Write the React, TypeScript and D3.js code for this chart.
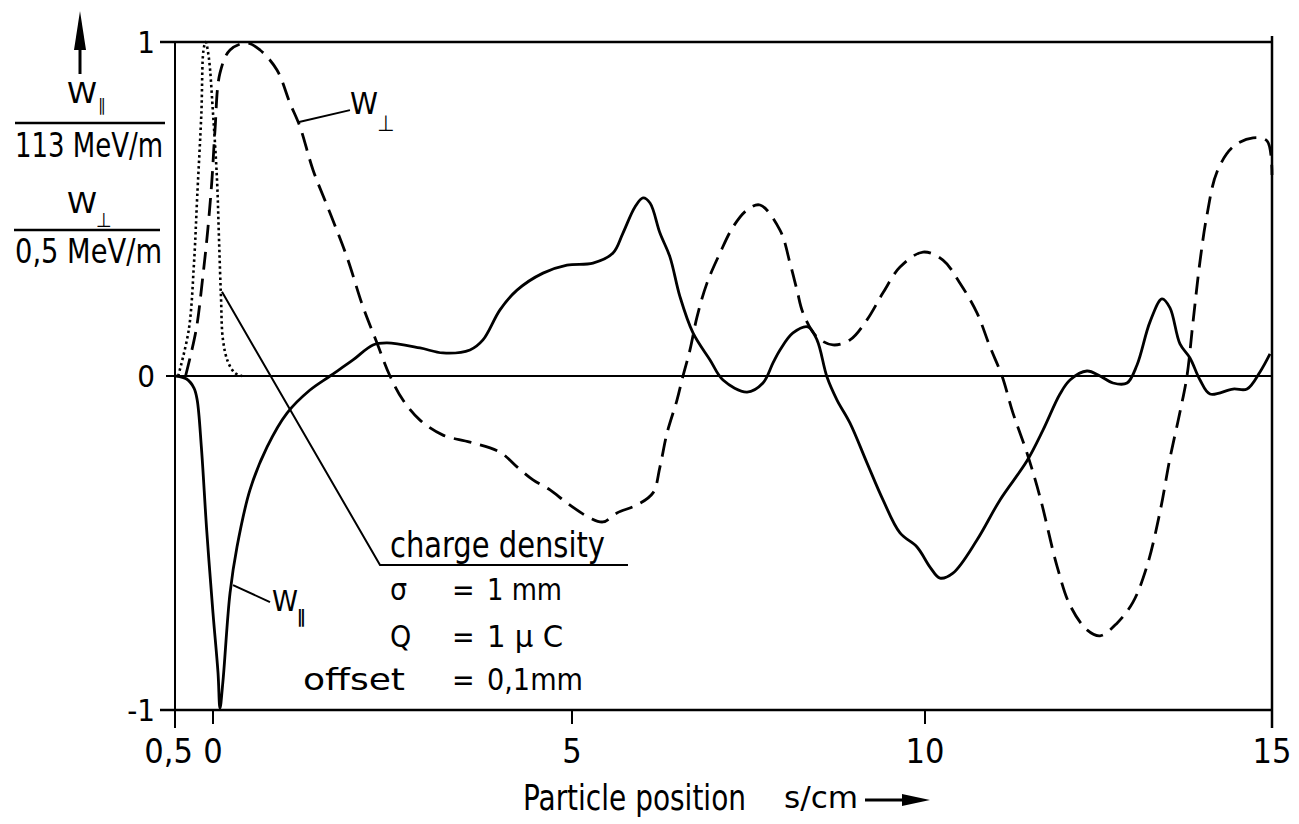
import React from 'react';
import * as d3 from 'd3';

// W_parallel (solid), normalised to 113 MeV/m
const sPar = [-0.486, -0.347, -0.25, -0.208, -0.153, -0.083, 0, 0.07, 0.097, 0.139, 0.237, 0.334, 0.515, 0.752, 1.031, 1.351, 1.63, 1.95, 2.228, 2.423, 2.883, 3.203, 3.579, 3.76, 3.997, 4.234, 4.596, 4.93, 5.297, 5.581, 5.722, 5.892, 6.006, 6.105, 6.246, 6.388, 6.53, 6.714, 6.955, 7.139, 7.479, 7.705, 7.847, 7.946, 8.13, 8.343, 8.47, 8.612, 8.754, 8.938, 9.178, 9.405, 9.646, 9.887, 10.072, 10.216, 10.403, 10.749, 11.081, 11.47, 11.7, 11.945, 12.089, 12.334, 12.522, 12.709, 12.911, 13.055, 13.242, 13.415, 13.53, 13.674, 13.818, 13.963, 14.107, 14.438, 14.64, 14.827, 14.971];
const wPar = [0, -0.009, -0.036, -0.072, -0.213, -0.461, -0.71, -0.889, -0.995, -0.913, -0.65, -0.512, -0.341, -0.213, -0.111, -0.042, 0, 0.048, 0.093, 0.099, 0.084, 0.069, 0.078, 0.108, 0.198, 0.257, 0.308, 0.332, 0.338, 0.368, 0.428, 0.506, 0.533, 0.518, 0.428, 0.356, 0.237, 0.129, 0.048, -0.012, -0.048, -0.021, 0.039, 0.078, 0.129, 0.147, 0.108, -0.003, -0.072, -0.141, -0.26, -0.371, -0.47, -0.512, -0.572, -0.605, -0.59, -0.491, -0.371, -0.254, -0.162, -0.054, -0.012, 0.015, 0, -0.021, -0.021, 0.033, 0.162, 0.231, 0.204, 0.096, 0.054, -0.012, -0.054, -0.039, -0.039, 0.012, 0.066];

// W_perp (dashed), normalised to 0.5 MeV/m
const sPerp = [-0.361, -0.222, -0.139, -0.069, -0.014, 0.028, 0.097, 0.237, 0.474, 0.655, 0.891, 1.072, 1.212, 1.393, 1.63, 1.866, 2.089, 2.284, 2.465, 2.646, 2.883, 3.203, 3.579, 3.997, 4.234, 4.457, 4.694, 4.93, 5.255, 5.439, 5.637, 5.921, 6.147, 6.246, 6.346, 6.487, 6.572, 6.671, 6.771, 6.912, 7.096, 7.28, 7.479, 7.663, 7.946, 8.088, 8.187, 8.272, 8.47, 8.697, 8.938, 9.178, 9.405, 9.646, 9.972, 10.259, 10.504, 10.749, 10.937, 11.11, 11.268, 11.47, 11.657, 11.902, 12.089, 12.334, 12.522, 12.767, 12.997, 13.199, 13.386, 13.53, 13.674, 13.775, 13.862, 13.963, 14.063, 14.207, 14.438, 14.726, 14.928, 15];
const wPerp = [0, 0.138, 0.287, 0.437, 0.587, 0.737, 0.907, 0.976, 0.997, 0.976, 0.916, 0.817, 0.746, 0.617, 0.488, 0.356, 0.207, 0.099, 0, -0.072, -0.132, -0.177, -0.198, -0.228, -0.272, -0.311, -0.341, -0.38, -0.425, -0.437, -0.41, -0.386, -0.35, -0.272, -0.171, -0.072, 0, 0.078, 0.177, 0.278, 0.368, 0.446, 0.497, 0.512, 0.437, 0.338, 0.257, 0.189, 0.117, 0.093, 0.108, 0.168, 0.249, 0.326, 0.371, 0.347, 0.278, 0.189, 0.087, 0, -0.111, -0.231, -0.362, -0.569, -0.686, -0.76, -0.778, -0.74, -0.677, -0.569, -0.407, -0.246, -0.108, 0, 0.162, 0.344, 0.482, 0.611, 0.686, 0.713, 0.704, 0.602];

// charge density (dotted)
const sRho = [-0.458, -0.319, -0.25, -0.208, -0.153, -0.125, -0.097, -0.056, 0, 0.056, 0.084, 0.111, 0.139, 0.209, 0.306, 0.404];
const rho = [0, 0.138, 0.338, 0.536, 0.787, 0.976, 1.0, 0.955, 0.787, 0.587, 0.407, 0.237, 0.108, 0.042, 0.009, 0];

const xTicks = [-0.5, 0, 5, 10, 15];
const xTickLabels = ['0,5', '0', '5', '10', '15'];
const yTicks = [1, 0, -1];
const yTickLabels = ['1', '0', '-1'];

const FONT = '"Liberation Sans Narrow", "DejaVu Sans Condensed", "Liberation Sans", Arial, sans-serif';

const App = () => {
  const x = d3.scaleLinear().domain(xTicks).range([175, 213, 572, 925, 1272]);
  const y = d3.scaleLinear().domain([-1, 1]).range([710, 42]);

  const line = d3.line<[number, number]>()
    .x(d => x(d[0]))
    .y(d => y(d[1]))
    .curve(d3.curveCatmullRom.alpha(0.5));

  const parPath = line(sPar.map((s, i) => [s, wPar[i]]));
  const perpPath = line(sPerp.map((s, i) => [s, wPerp[i]]));
  const rhoPath = line(sRho.map((s, i) => [s, rho[i]]));

  const txt = { fontFamily: FONT, fill: '#000' };

  return (
    <svg width={1299} height={824} style={{ position: 'absolute', left: 0, top: 0, background: '#fff' }}>
      {/* frame */}
      <line x1={160} x2={1272} y1={y(1)} y2={y(1)} stroke="#000" strokeWidth={2.5} />
      <line x1={160} x2={1272} y1={y(-1)} y2={y(-1)} stroke="#000" strokeWidth={2.5} />
      <line x1={x(-0.5)} x2={x(-0.5)} y1={y(1)} y2={728} stroke="#000" strokeWidth={2} />
      <line x1={x(15)} x2={x(15)} y1={36} y2={728} stroke="#000" strokeWidth={2.5} />
      <line x1={166} x2={1272} y1={y(0)} y2={y(0)} stroke="#000" strokeWidth={2} />

      {/* x ticks */}
      {xTicks.map((t, i) => (
        <g key={'xt' + i}>
          <line x1={x(t)} x2={x(t)} y1={y(-1)} y2={724} stroke="#000" strokeWidth={2} />
          <text x={t === -0.5 ? x(0) - 20 : x(t)} y={763} fontSize={34}
            textAnchor={t === -0.5 ? 'end' : 'middle'} style={txt}>{xTickLabels[i]}</text>
        </g>
      ))}

      {/* y tick labels */}
      {yTicks.map((t, i) => (
        <text key={'yt' + i} x={155} y={y(t) + 11} fontSize={31} textAnchor="end" style={txt}>{yTickLabels[i]}</text>
      ))}

      {/* curves */}
      <path d={rhoPath || ''} fill="none" stroke="#000" strokeWidth={2.6} strokeDasharray="2.5 3" />
      <path d={perpPath || ''} fill="none" stroke="#000" strokeWidth={2.8} strokeDasharray="18 9" />
      <path d={parPath || ''} fill="none" stroke="#000" strokeWidth={2.8} />

      {/* leaders */}
      <polyline points={`${x(0.125)},${y(0.252)} ${x(2.326)},${y(-0.566)} ${x(5.793)},${y(-0.566)}`}
        fill="none" stroke="#000" strokeWidth={2} />
      <line x1={x(1.184)} y1={y(0.76)} x2={x(1.908)} y2={y(0.796)} stroke="#000" strokeWidth={2} />
      <line x1={x(0.279)} y1={y(-0.626)} x2={x(0.794)} y2={y(-0.677)} stroke="#000" strokeWidth={2} />

      {/* curve labels */}
      <text x={350} y={114} fontSize={31} textLength={28} lengthAdjust="spacingAndGlyphs" style={txt}>W</text>
      <text x={377} y={131} fontSize={22} style={txt}>⊥</text>
      <text x={272} y={611} fontSize={29} textLength={26} lengthAdjust="spacingAndGlyphs" style={txt}>W</text>
      <text x={297} y={623} fontSize={18} fontWeight="bold" style={txt}>∥</text>

      {/* legend */}
      <text x={390} y={557} fontSize={35} textLength={215} lengthAdjust="spacingAndGlyphs" style={txt}>charge density</text>
      <text x={390} y={600} fontSize={30} style={txt}>σ</text>
      <text x={452} y={600} fontSize={30} style={txt}>=</text>
      <text x={487} y={600} fontSize={30} textLength={75} lengthAdjust="spacingAndGlyphs" style={txt}>1 mm</text>
      <text x={390} y={647} fontSize={30} style={txt}>Q</text>
      <text x={452} y={647} fontSize={30} style={txt}>=</text>
      <text x={487} y={647} fontSize={30} textLength={76} lengthAdjust="spacingAndGlyphs" style={txt}>1 µ C</text>
      <text x={303} y={690} fontSize={30} textLength={102} lengthAdjust="spacingAndGlyphs" style={txt}>offset</text>
      <text x={452} y={690} fontSize={30} style={txt}>=</text>
      <text x={487} y={690} fontSize={30} textLength={96} lengthAdjust="spacingAndGlyphs" style={txt}>0,1mm</text>

      {/* y axis label block */}
      <line x1={80} x2={80} y1={74} y2={40} stroke="#000" strokeWidth={3} />
      <polygon points="80,11 74,50 86,50" fill="#000" />
      <text x={67} y={103} fontSize={29} textLength={30} lengthAdjust="spacingAndGlyphs" style={txt}>W</text>
      <text x={98} y={111} fontSize={17} style={txt}>∥</text>
      <line x1={15} x2={165} y1={123} y2={123} stroke="#000" strokeWidth={2.5} />
      <text x={15} y={157} fontSize={33} textLength={148} lengthAdjust="spacingAndGlyphs" style={txt}>113 MeV/m</text>
      <text x={67} y={213} fontSize={29} textLength={30} lengthAdjust="spacingAndGlyphs" style={txt}>W</text>
      <text x={96} y={227} fontSize={20} style={txt}>⊥</text>
      <line x1={14} x2={160} y1={230} y2={230} stroke="#000" strokeWidth={2.5} />
      <text x={15} y={263} fontSize={33} textLength={147} lengthAdjust="spacingAndGlyphs" style={txt}>0,5 MeV/m</text>

      {/* x axis title */}
      <text x={523} y={810} fontSize={35} textLength={223} lengthAdjust="spacingAndGlyphs" style={txt}>Particle position</text>
      <text x={784} y={808} fontSize={30} textLength={74} lengthAdjust="spacingAndGlyphs" style={txt}>s/cm</text>
      <line x1={865} x2={912} y1={800} y2={800} stroke="#000" strokeWidth={3} />
      <polygon points="930,800 902,794 902,806" fill="#000" />
    </svg>
  );
};

export default App;
